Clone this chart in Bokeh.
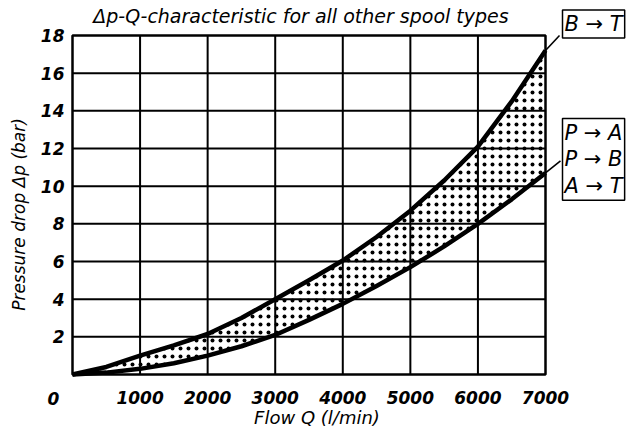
from bokeh.plotting import figure
from bokeh.models import Range1d, FixedTicker, Label
from bokeh.embed import file_html
from bokeh.resources import INLINE

# ---- data ----
flow_lpm = [0, 500, 1000, 1500, 2000, 2500, 3000, 3500, 4000, 4500, 5000, 5500, 6000, 6500, 7000]
dp_b_to_t = [0, 0.4, 1.0, 1.55, 2.15, 3.0, 4.0, 5.0, 6.05, 7.3, 8.7, 10.3, 12.1, 14.5, 17.2]
dp_p_a_b = [0, 0.1, 0.3, 0.6, 1.0, 1.5, 2.1, 2.9, 3.75, 4.7, 5.7, 6.8, 8.0, 9.3, 10.7]
x_ticks = [1000, 2000, 3000, 4000, 5000, 6000, 7000]
y_ticks = [2, 4, 6, 8, 10, 12, 14, 16, 18]
title_text = "Δp-Q-characteristic for all other spool types"
x_label = "Flow Q (l/min)"
y_label = "Pressure drop Δp (bar)"
upper_label = "B → T"
lower_label = "P → A\nP → B\nA → T"

# ---- layout (pixels) ----
W, H = 629, 428
LEFT, TOP = 72, 35
FRAME_W, FRAME_H = 473, 339
FONT = "DejaVu Sans"

X_MAX, Y_MAX = x_ticks[-1], y_ticks[-1]
px_x = X_MAX / FRAME_W
px_y = Y_MAX / FRAME_H

p = figure(width=W, height=H,
           x_range=Range1d(-LEFT * px_x, X_MAX + (W - LEFT - FRAME_W) * px_x),
           y_range=Range1d(-(H - TOP - FRAME_H) * px_y, Y_MAX + TOP * px_y),
           output_backend="svg", toolbar_location=None, title=None,
           min_border=0)

p.background_fill_color = "white"
p.border_fill_color = "white"
p.outline_line_color = None
p.grid.visible = False

p.xaxis.ticker = FixedTicker(ticks=x_ticks)
p.yaxis.ticker = FixedTicker(ticks=y_ticks)
p.xaxis.fixed_location = 0
p.yaxis.fixed_location = 0
for ax in (p.xaxis, p.yaxis):
    ax.axis_line_color = None
    ax.major_tick_line_color = None
    ax.minor_tick_line_color = None
    ax.major_tick_out = 0
    ax.major_tick_in = 0
    ax.major_label_text_font = FONT
    ax.major_label_text_font_style = "bold italic"
    ax.major_label_text_font_size = "17px"
    ax.major_label_text_color = "black"
p.xaxis.major_label_standoff = 16
p.yaxis.major_label_standoff = 8
p.yaxis.axis_label = y_label
p.yaxis.axis_label_text_font = FONT
p.yaxis.axis_label_text_font_style = "italic"
p.yaxis.axis_label_text_font_size = "17px"
p.yaxis.axis_label_text_color = "black"
p.yaxis.axis_label_standoff = 9

# grid lines at the tick values, limited to the chart box
v_ticks = [t for t in x_ticks if t < X_MAX]
h_ticks = [t for t in y_ticks if t < Y_MAX]
p.segment(x0=v_ticks, y0=[0] * len(v_ticks), x1=v_ticks, y1=[Y_MAX] * len(v_ticks),
          line_color="black", line_width=2)
p.segment(x0=[0] * len(h_ticks), y0=h_ticks, x1=[X_MAX] * len(h_ticks), y1=h_ticks,
          line_color="black", line_width=2)

# dotted band between the two characteristics
p.varea(x=flow_lpm, y1=dp_p_a_b, y2=dp_b_to_t, fill_alpha=0,
        hatch_pattern="dot", hatch_color="black", hatch_scale=8, hatch_weight=2.2)
p.line(flow_lpm, dp_b_to_t, line_width=4.5, line_color="black", line_join="round")
p.line(flow_lpm, dp_p_a_b, line_width=4.5, line_color="black", line_join="round")

# chart box
p.quad(left=[0], right=[X_MAX], bottom=[0], top=[Y_MAX], fill_color=None,
       line_color="black", line_width=2.5)

# leader lines to the labels
p.segment(x0=[flow_lpm[-1], flow_lpm[-1]], y0=[dp_b_to_t[-1], dp_p_a_b[-1]],
          x1=[flow_lpm[-1] + 14 * px_x, flow_lpm[-1] + 15 * px_x],
          y1=[dp_b_to_t[-1] + 15 * px_y, dp_p_a_b[-1] + 12 * px_y],
          line_color="black", line_width=1.6)

box_style = dict(text_font=FONT, text_font_style="italic", text_font_size="21px",
                 text_color="black", text_align="left", text_baseline="middle",
                 border_line_color="black", border_line_width=1.5,
                 background_fill_color="white", padding=2)
p.add_layout(Label(x=flow_lpm[-1], y=dp_b_to_t[-1], x_offset=17, y_offset=26.5,
                   text=upper_label, **box_style))
p.add_layout(Label(x=flow_lpm[-1], y=dp_p_a_b[-1], x_offset=17, y_offset=13.5,
                   text=lower_label, text_line_height=1.12, **box_style))

# title, shared origin label and x-axis title
p.add_layout(Label(x=X_MAX / 2, y=Y_MAX, x_offset=-8, y_offset=20, text=title_text,
                   text_font=FONT, text_font_style="italic", text_font_size="19px",
                   text_color="black", text_align="center", text_baseline="middle"))
p.add_layout(Label(x=0, y=0, x_offset=-19, y_offset=-24, text="0",
                   text_font=FONT, text_font_style="bold italic", text_font_size="17px",
                   text_color="black", text_align="center", text_baseline="middle"))
p.add_layout(Label(x=X_MAX / 2, y=0, x_offset=8, y_offset=-53, text=x_label,
                   text_font=FONT, text_font_style="italic", text_font_size="18px",
                   text_color="black", text_align="center", text_baseline="bottom"))

open("out.html", "w").write(file_html(p, INLINE))
